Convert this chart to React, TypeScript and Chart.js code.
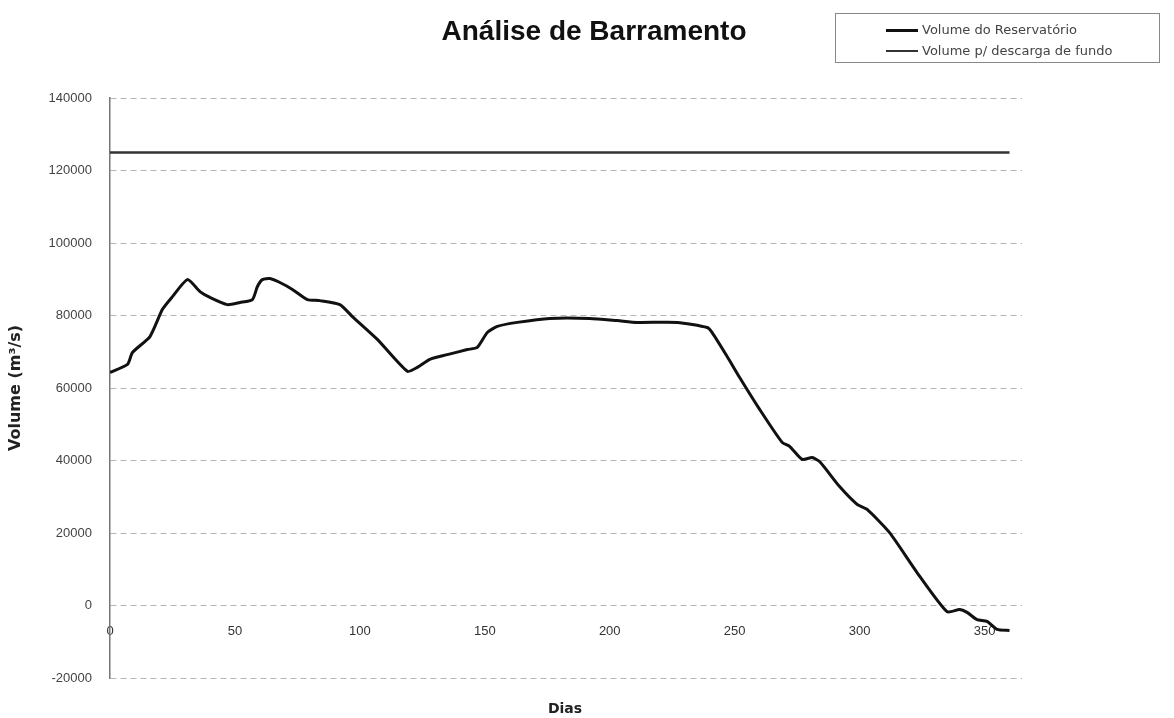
import React, { useEffect, useRef } from "react";
import { Chart, registerables } from "chart.js";

Chart.register(...registerables);

const TITLE = "Análise de Barramento";
const X_TITLE = "Dias";
const Y_TITLE = "Volume (m³/s)";
const SERIES_LABELS = ["Volume do Reservatório", "Volume p/ descarga de fundo"];

const days = [0, 7, 9, 16, 21, 25, 31, 36, 40, 47, 52, 57, 59, 61, 64, 68, 73, 79, 84, 92, 97, 107, 119, 123, 128, 135, 143, 147, 151, 155, 163, 176, 192, 203, 211, 227, 239, 241, 247, 252, 260, 269, 272, 277, 281, 284, 292, 299, 303, 312, 323, 335, 340, 343, 347, 351, 355, 360];
const volume = [64300, 66500, 69800, 74200, 81700, 85200, 89900, 86600, 85000, 83000, 83600, 84400, 88000, 89900, 90200, 89100, 87200, 84400, 84100, 83000, 79700, 73400, 64600, 65700, 67900, 69200, 70600, 71200, 75300, 77000, 78100, 79200, 79200, 78600, 78100, 78100, 76700, 75300, 68700, 62900, 54100, 45000, 43900, 40300, 40800, 39700, 32800, 27900, 26500, 20100, 9100, -1700, -1100, -1900, -3900, -4400, -6600, -6900];

const levelDays = [0, 360];
const levelVolume = [125000, 125000];

const xTickValues = [0, 50, 100, 150, 200, 250, 300, 350];
const yTickValues = [-20000, 0, 20000, 40000, 60000, 80000, 100000, 120000, 140000];

const SERIES_STYLES = [
  { color: "#111111", width: 3 },
  { color: "#333333", width: 2.5 },
];

export default function App() {
  const canvasRef = useRef<HTMLCanvasElement | null>(null);

  useEffect(() => {
    document.body.style.margin = "0";
    document.body.style.overflow = "hidden";
    const canvas = canvasRef.current;
    if (!canvas) return;
    const chart = new Chart(canvas, {
      type: "line",
      data: {
        datasets: [
          {
            label: SERIES_LABELS[0],
            data: days.map((d, i) => ({ x: d, y: volume[i] })),
            borderColor: SERIES_STYLES[0].color,
            borderWidth: SERIES_STYLES[0].width,
            pointRadius: 0,
            tension: 0.2,
            fill: false,
          },
          {
            label: SERIES_LABELS[1],
            data: levelDays.map((d, i) => ({ x: d, y: levelVolume[i] })),
            borderColor: SERIES_STYLES[1].color,
            borderWidth: SERIES_STYLES[1].width,
            pointRadius: 0,
            fill: false,
          },
        ],
      },
      options: {
        responsive: false,
        animation: false,
        layout: { padding: { left: 0, top: 98, right: 152, bottom: 40 } },
        plugins: {
          legend: { display: false },
          title: { display: false },
          tooltip: { enabled: false },
        },
        scales: {
          x: {
            type: "linear",
            min: 0,
            max: 365,
            position: { y: 0 } as any,
            grid: { display: false, drawTicks: false },
            border: { display: false },
            afterBuildTicks: (scale: any) => {
              scale.ticks = xTickValues.map((v) => ({ value: v }));
            },
            ticks: {
              padding: 18,
              color: "#333",
              font: { family: "Liberation Sans", size: 13 },
              maxRotation: 0,
              callback: (v: any) => String(v),
            },
          },
          y: {
            type: "linear",
            min: -20000,
            max: 140000,
            afterBuildTicks: (scale: any) => {
              scale.ticks = yTickValues.map((v) => ({ value: v }));
            },
            afterFit: (scale: any) => {
              scale.width = 110;
            },
            grid: { color: "#b5b5b5", lineWidth: 1, drawTicks: false },
            border: { display: true, color: "#777", width: 1.5, dash: [6, 4] },
            ticks: {
              padding: 18,
              color: "#444",
              font: { family: "Liberation Sans", size: 13 },
              callback: (v: any) => String(v),
            },
            title: {
              display: true,
              text: Y_TITLE,
              color: "#222",
              font: { family: "DejaVu Sans", size: 16, weight: "bold" },
              padding: { top: 6, bottom: 0 },
            },
          },
        },
      },
    });
    return () => chart.destroy();
  }, []);

  return (
    <div style={{ position: "relative", width: 1174, height: 718, background: "#fff", overflow: "hidden" }}>
      <canvas ref={canvasRef} width={1174} height={718} style={{ position: "absolute", left: 0, top: 0 }} />
      <div
        style={{
          position: "absolute",
          left: 0,
          top: 15,
          width: 1188,
          textAlign: "center",
          fontFamily: "Liberation Sans",
          fontWeight: "bold",
          fontSize: 28,
          lineHeight: "32px",
          color: "#111",
        }}
      >
        {TITLE}
      </div>
      <div
        style={{
          position: "absolute",
          left: 835,
          top: 13,
          width: 325,
          height: 50,
          border: "1px solid #888",
          boxSizing: "border-box",
        }}
      >
        {SERIES_LABELS.map((label, i) => (
          <div key={label} style={{ position: "absolute", left: 0, top: 8 + i * 21, height: 16, width: 320 }}>
            <div
              style={{
                position: "absolute",
                left: 50,
                top: 8 - SERIES_STYLES[i].width / 2,
                width: 32,
                height: SERIES_STYLES[i].width,
                background: SERIES_STYLES[i].color,
              }}
            />
            <div
              style={{
                position: "absolute",
                left: 86,
                top: 0,
                fontFamily: "DejaVu Sans",
                fontSize: 13,
                lineHeight: "16px",
                color: "#444",
                whiteSpace: "nowrap",
              }}
            >
              {label}
            </div>
          </div>
        ))}
      </div>
      <div
        style={{
          position: "absolute",
          left: 465,
          top: 700,
          width: 200,
          textAlign: "center",
          fontFamily: "DejaVu Sans",
          fontWeight: "bold",
          fontSize: 14,
          lineHeight: "16px",
          color: "#222",
        }}
      >
        {X_TITLE}
      </div>
    </div>
  );
}
